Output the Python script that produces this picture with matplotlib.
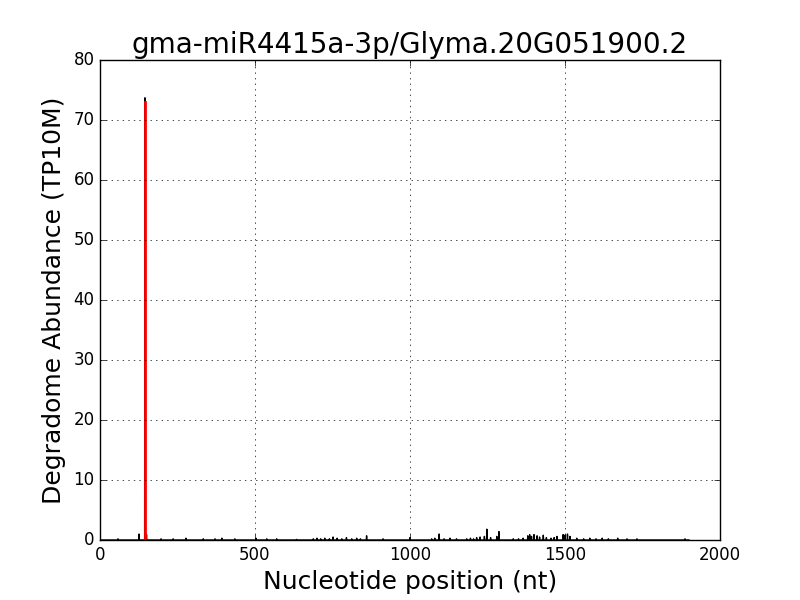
import numpy as np
import matplotlib
matplotlib.use('Agg')
import matplotlib.pyplot as plt

plt.style.use('classic')

# transcript length and degradome reads (position, abundance in TP10M)
transcript_length = 1900
peak_pos = [58, 126, 145, 150, 197, 236, 277, 333, 371, 393, 435, 503, 538, 570,
            634, 688, 700, 712, 725, 740, 752, 765, 780, 795, 812, 828, 840, 860,
            913, 1000, 1070, 1080, 1094, 1110, 1129, 1150, 1183, 1195, 1205, 1215,
            1226, 1240, 1248, 1260, 1280, 1287, 1333, 1350, 1365, 1380, 1386,
            1392, 1400, 1410, 1418, 1430, 1440, 1455, 1465, 1474, 1494, 1500,
            1508, 1516, 1538, 1560, 1580, 1600, 1620, 1640, 1670, 1700, 1732, 1887]
peak_val = [0.2, 1.0, 73.7, 0.9, 0.2, 0.2, 0.3, 0.2, 0.2, 0.3, 0.2, 0.3, 0.2, 0.2,
            0.1, 0.2, 0.3, 0.2, 0.3, 0.2, 0.5, 0.3, 0.2, 0.4, 0.2, 0.3, 0.2, 0.7,
            0.2, 0.4, 0.2, 0.3, 1.0, 0.2, 0.3, 0.2, 0.2, 0.3, 0.2, 0.4, 0.5, 0.6,
            1.8, 0.4, 0.6, 1.4, 0.2, 0.2, 0.3, 0.7, 0.9, 0.6, 0.9, 0.7, 0.5, 0.8,
            0.4, 0.3, 0.4, 0.6, 0.9, 0.8, 1.0, 0.6, 0.3, 0.2, 0.3, 0.2, 0.3, 0.2,
            0.3, 0.2, 0.2, 0.2]

cleavage_site = 145
cleavage_val = 73.0

positions = np.arange(1, transcript_length + 1)
abundance = np.zeros(transcript_length)
for p, v in zip(peak_pos, peak_val):
    abundance[p - 1] = v

fig = plt.figure(figsize=(8, 6), dpi=100, facecolor='white')
ax = fig.add_subplot(111)
ax.plot(positions, abundance, color='black', linewidth=1)
ax.plot([cleavage_site, cleavage_site], [0, cleavage_val], color='red', linewidth=2)

ax.set_xlim(0, 2000)
ax.set_ylim(0, 80)
ax.grid(True)
ax.set_title('gma-miR4415a-3p/Glyma.20G051900.2', fontsize=20)
ax.set_xlabel('Nucleotide position (nt)', fontsize=18)
ax.set_ylabel('Degradome Abundance (TP10M)', fontsize=18)

fig.savefig('out.png', dpi=100, facecolor='white')
